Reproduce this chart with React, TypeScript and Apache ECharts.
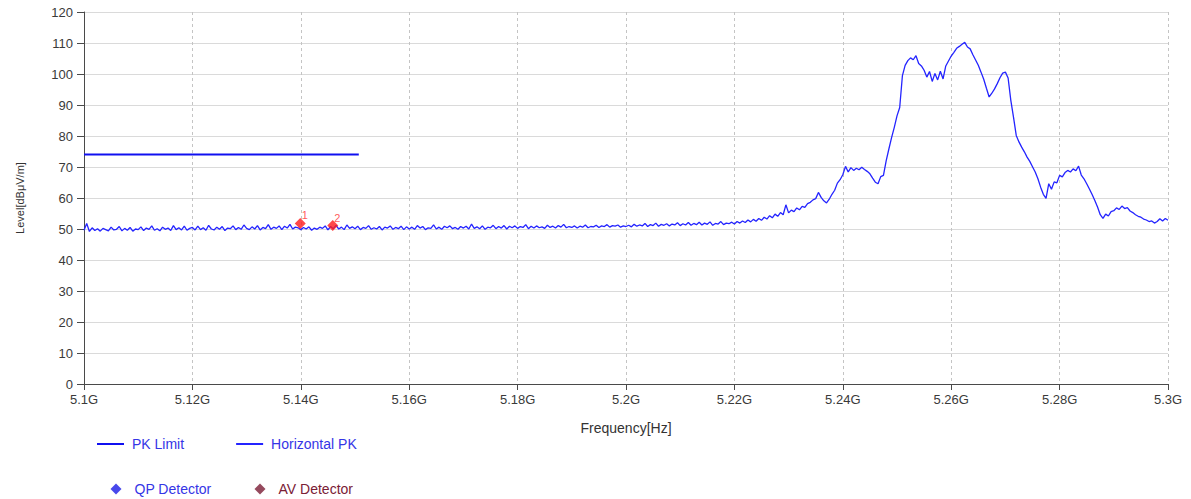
import React, { useEffect, useRef } from "react";
import * as echarts from "echarts";

// Sweep grid (MHz): 5100 .. 5300, 0.5 MHz step
const FREQ_START = 5100;
const FREQ_STEP = 0.5;

// Horizontal PK trace levels, dBµV/m (rows of 10 MHz)
const pkLevels: number[] = [
  49.6, 51.8, 49.2, 50.4, 49.5, 50.1, 49.3, 50.2, 49.8, 49.4, 50.6, 49.7, 49.9, 50.8, 49.4, 50.2, 49.6, 50.5, 49.3, 50.0,
  49.8, 50.7, 49.5, 50.3, 49.9, 51.0, 49.6, 50.1, 49.4, 50.6, 49.9, 50.3, 49.5, 51.1, 49.8, 50.4, 49.7, 50.9, 49.6, 50.2,
  50.5, 49.7, 50.9, 49.8, 50.4, 49.6, 51.2, 50.0, 49.7, 50.6, 49.9, 50.8, 49.5, 50.3, 50.1, 51.0, 49.8, 50.5, 49.9, 51.3,
  50.2, 49.8, 50.7, 50.0, 51.1, 49.7, 50.5, 50.1, 51.4, 49.9, 50.6, 50.2, 51.0, 49.8, 50.9, 50.3, 51.5, 50.0, 50.6, 50.4,
  49.8, 50.5, 50.0, 50.7, 49.6, 50.3, 49.9, 50.6, 50.2, 51.0, 49.7, 50.8, 50.1, 51.2, 50.0, 50.6, 49.8, 51.3, 50.2, 50.7,
  50.1, 50.9, 49.8, 50.5, 50.2, 51.1, 49.9, 50.4, 50.0, 50.8, 49.7, 50.6, 50.3, 51.0, 49.9, 50.5, 50.1, 50.9, 49.8, 50.7,
  50.0, 50.6, 49.9, 51.1, 50.3, 50.8, 49.8, 50.4, 50.2, 51.3, 50.0, 50.6, 49.9, 50.9, 50.4, 51.0, 50.1, 50.5, 49.9, 50.8,
  50.3, 50.9, 50.0, 51.6, 50.2, 50.7, 50.1, 51.0, 49.9, 50.6, 50.4, 51.2, 50.1, 50.8, 50.3, 51.1, 50.0, 50.9, 50.4, 51.0,
  50.2, 50.8, 50.5, 51.4, 50.1, 50.9, 50.3, 51.0, 50.4, 50.7, 50.2, 51.2, 50.5, 50.9, 50.3, 51.1, 50.6, 51.5, 50.4, 50.8,
  50.5, 51.0, 50.3, 50.9, 50.6, 51.3, 50.4, 50.8, 50.7, 51.2, 50.5, 51.0, 50.8, 51.4, 50.6, 51.1, 50.9, 51.3, 50.6, 51.0,
  50.8, 51.2, 50.7, 51.5, 50.9, 51.3, 51.0, 51.8, 50.8, 51.4, 51.1, 51.9, 50.9, 51.5, 51.2, 51.7, 51.0, 51.6, 51.3, 52.0,
  51.1, 51.7, 51.3, 52.1, 51.2, 51.8, 51.4, 52.2, 51.3, 51.9, 51.5, 52.3, 51.2, 51.8, 51.6, 52.4, 51.4, 51.9, 51.7, 52.2,
  51.6, 52.4, 51.9, 52.6, 52.1, 52.9, 52.3, 53.1, 52.5, 53.4, 52.8, 53.8, 53.2, 54.3, 53.6, 54.8, 54.1, 55.3, 54.6, 57.8,
  55.2, 56.1, 55.6, 56.8, 56.2, 57.3, 57.0, 58.2, 58.6, 59.4, 59.8, 61.8, 60.2, 59.1, 58.4, 59.6, 61.2, 62.5, 64.8, 65.9,
  67.5, 70.2, 68.4, 69.8, 68.9, 69.6, 69.1, 69.9, 69.2, 68.6, 67.8, 66.4, 65.1, 64.6, 66.9, 67.3, 72.0, 75.8, 79.5, 82.8,
  86.5, 89.2, 99.5, 102.8, 104.3, 105.2, 104.6, 105.9, 103.4, 102.6, 101.2, 99.0, 100.8, 97.6, 100.2, 98.1, 100.9, 98.4, 102.6, 104.2,
  105.8, 107.0, 108.3, 108.9, 109.6, 110.2, 108.7, 108.1, 106.2, 104.5, 102.8, 100.6, 98.3, 95.4, 92.6, 93.8, 95.2, 96.9, 98.8, 100.3,
  100.6, 98.7, 91.5, 86.0, 80.2, 78.1, 76.4, 74.9, 73.2, 71.8, 70.1, 68.4, 66.2, 63.5, 61.2, 59.9, 64.6, 62.8, 65.2, 64.9,
  67.3, 66.8, 68.2, 68.9, 68.4, 69.4, 68.8, 70.3, 67.4, 66.2, 64.6, 62.9, 61.1, 59.2, 57.1, 54.6, 53.4, 54.8, 54.2, 55.6,
  55.9, 56.8, 56.3, 57.4, 56.6, 56.9, 55.8, 55.3, 54.6, 54.1, 53.8, 53.2, 52.9, 52.4, 52.6, 51.9, 52.4, 53.3, 52.6, 53.4,
  52.8,
];

// PK Limit
const limitFreq = [5100, 5150.7];
const limitLevel = [74, 74];

// Final data markers
const markerFreq = [5139.9, 5145.9];
const markerLevel = [51.8, 51.1];
const markerLabel = ["1", "2"];

// Axis ticks
const xTicks = { min: 5100, max: 5300, interval: 20 };
const yTicks = { min: 0, max: 120, interval: 10 };

const FONT = "Liberation Sans, Arial, sans-serif";

export default function App() {
  const ref = useRef<HTMLDivElement>(null);

  useEffect(() => {
    if (!ref.current) return;
    document.body.style.overflow = "hidden";
    const chart = echarts.init(ref.current, undefined, { renderer: "svg" });

    const pkData = pkLevels.map((v, i) => [FREQ_START + i * FREQ_STEP, v]);
    const limitData = limitFreq.map((f, i) => [f, limitLevel[i]]);
    const markerData = markerFreq.map((f, i) => ({
      value: [f, markerLevel[i]],
      label: { formatter: markerLabel[i] },
    }));

    chart.setOption({
      animation: false,
      textStyle: { fontFamily: FONT },
      grid: { left: 84, right: 23, top: 12, bottom: 115, containLabel: false },
      legend: [
        {
          data: [
            { name: "PK Limit", textStyle: { color: "#3535e6" } },
            { name: "Horizontal PK", textStyle: { color: "#3535e6" } },
          ],
          left: 97,
          top: 437,
          padding: 0,
          icon: "rect",
          itemWidth: 27,
          itemHeight: 2,
          itemGap: 52,
          textStyle: { fontSize: 14, fontFamily: FONT, padding: [0, 0, 0, 3] },
        },
        {
          data: [
            { name: "QP Detector", textStyle: { color: "#3535e6" } },
            { name: "AV Detector", textStyle: { color: "#7a2036" } },
          ],
          left: 110.5,
          top: 482,
          padding: 0,
          icon: "diamond",
          itemWidth: 11,
          itemHeight: 11,
          itemGap: 43,
          textStyle: { fontSize: 14, fontFamily: FONT, padding: [0, 0, 0, 8] },
        },
      ],
      xAxis: {
        type: "value",
        min: xTicks.min,
        max: xTicks.max,
        interval: xTicks.interval,
        name: "Frequency[Hz]",
        nameLocation: "middle",
        nameGap: 37,
        nameTextStyle: { fontSize: 14, color: "#333", fontFamily: FONT },
        axisLine: { show: true, lineStyle: { color: "#4a4a4a", width: 1 } },
        axisTick: { show: true, length: 6, lineStyle: { color: "#4a4a4a" } },
        axisLabel: {
          margin: 9,
          fontSize: 13,
          color: "#3a3a3a",
          fontFamily: FONT,
          formatter: (v: number) => `${+(v / 1000).toFixed(2)}G`,
        },
        splitLine: { show: true, lineStyle: { color: "#c4c4c4", type: [3, 3], width: 1 } },
      },
      yAxis: {
        type: "value",
        min: yTicks.min,
        max: yTicks.max,
        interval: yTicks.interval,
        name: "Level[dBμV/m]",
        nameLocation: "middle",
        nameGap: 59,
        nameTextStyle: { fontSize: 11, color: "#333", fontFamily: FONT },
        axisLine: { show: true, lineStyle: { color: "#4a4a4a", width: 1 } },
        axisTick: { show: true, length: 7, lineStyle: { color: "#4a4a4a" } },
        axisLabel: { margin: 11, fontSize: 13, color: "#3a3a3a", fontFamily: FONT },
        splitLine: { show: true, lineStyle: { color: "#dadada", type: "solid", width: 1 } },
      },
      series: [
        {
          name: "PK Limit",
          type: "line",
          data: limitData,
          symbol: "none",
          color: "#1010f0",
          lineStyle: { width: 2, color: "#1010f0" },
          z: 3,
        },
        {
          name: "Horizontal PK",
          type: "line",
          data: pkData,
          symbol: "none",
          color: "#2424ff",
          lineStyle: { width: 1.3, color: "#2424ff" },
          z: 2,
        },
        {
          name: "QP Detector",
          type: "scatter",
          data: [],
          symbol: "diamond",
          color: "#1a1ae6",
        },
        {
          name: "AV Detector",
          type: "scatter",
          data: [],
          symbol: "diamond",
          color: "#7a1c34",
        },
        {
          name: "Final",
          type: "scatter",
          data: markerData,
          symbol: "diamond",
          symbolSize: 11,
          color: "#ff1a1a",
          z: 5,
          label: {
            show: true,
            position: "right",
            offset: [-9, -8],
            fontSize: 11,
            color: "#ff3030",
            fontFamily: FONT,
          },
        },
      ],
    });

    return () => chart.dispose();
  }, []);

  return (
    <div
      ref={ref}
      style={{ position: "absolute", left: 0, top: 0, width: 1191, height: 499 }}
    />
  );
}
